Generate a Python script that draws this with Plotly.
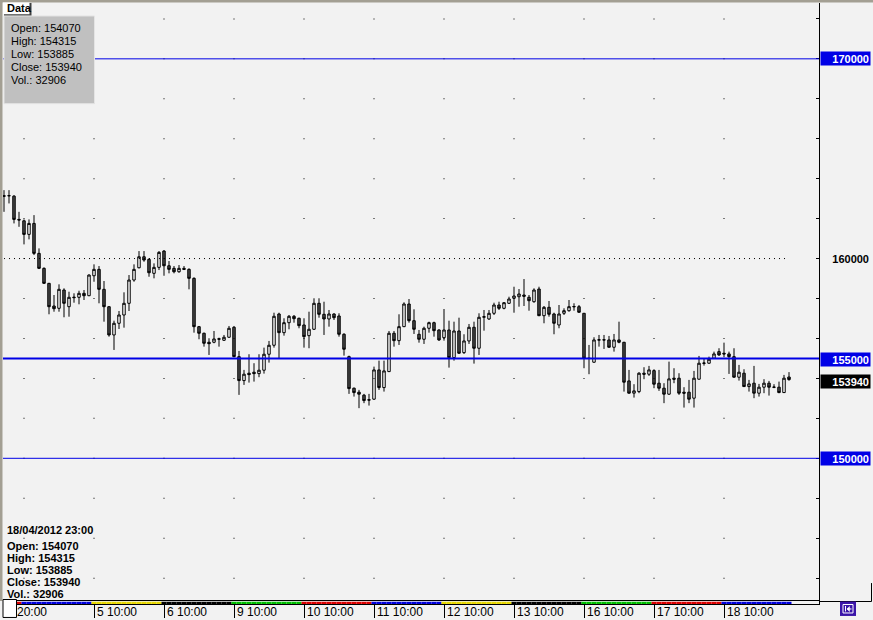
import plotly.graph_objects as go

# ---------------- data (hourly candles) ----------------
opens = [163150, 163140, 163125, 161960, 161890, 161210, 161760, 160260, 159510, 158760,
         157625, 157510, 158425, 157590, 158070, 158060, 158260, 158140, 159140, 159460,
         158460, 157590, 156175, 156760, 157175, 157760, 158925, 159540, 160090, 159960,
         159260, 159560, 160375, 159640, 159510, 159340, 159510, 159460, 159010, 156590,
         156260, 155810, 155810, 155985, 155910, 156060, 156560, 155090, 153890, 154260,
         154310, 154240, 154410, 155210, 155660, 157225, 156290, 156790, 157110, 157010,
         156675, 156140, 156460, 157760, 157210, 156975, 157225, 157125, 156210, 155090,
         153510, 153310, 153160, 152935, 152960, 154425, 153540, 154340, 156260, 155890,
         156590, 157725, 156890, 156210, 155960, 156510, 156790, 156425, 156040, 156425,
         155040, 156375, 155290, 155875, 156560, 155510, 157060, 156975, 157260, 157675,
         157510, 157760, 158010, 158090, 158175, 158060, 157840, 158475, 157140, 157560,
         157225, 156675, 157260, 157390, 157580, 157590, 157260, 155010, 154810, 155915,
         155935, 155925, 155560, 155925, 155810, 153875, 153260, 153340, 154260, 154210,
         154390, 153760, 153510, 153210, 154010, 154010, 153310, 153310, 153010, 153960,
         154750, 154760, 155010, 155340, 155260, 155225, 155090, 154060, 154260, 153590,
         153760, 153260, 153560, 153760, 153550, 153560, 153290, 154070]
highs = [163425, 163425, 163175, 162340, 161960, 161960, 162175, 160510, 159560, 158780,
         158175, 158710, 158510, 158340, 158260, 158390, 158425, 159210, 159710, 159625,
         158875, 157610, 156890, 157375, 158310, 159175, 159710, 160375, 160375, 160010,
         159760, 160375, 160425, 159875, 159625, 159675, 159625, 159510, 159060, 156625,
         156290, 156010, 156375, 156040, 156175, 156625, 156625, 155375, 154425, 155210,
         154760, 155210, 155540, 155875, 157290, 157290, 157010, 157175, 157175, 157040,
         157010, 157340, 158010, 158010, 157840, 157425, 157260, 157260, 156260, 155140,
         153540, 153425, 153225, 153225, 154590, 154890, 154890, 156375, 156375, 157210,
         157810, 157975, 157460, 156425, 156590, 156840, 156840, 156460, 157475, 156890,
         156840, 157040, 156210, 156725, 156840, 157260, 157425, 157425, 157790, 157840,
         157825, 158090, 158590, 158475, 158975, 158175, 158510, 158590, 157625, 157875,
         157290, 157675, 157510, 157925, 157760, 157675, 157270, 155675, 156060, 156175,
         156175, 156125, 156225, 156840, 155825, 154425, 153710, 154310, 154560, 154625,
         154460, 154425, 153760, 154840, 154510, 154260, 153560, 153925, 154375, 155125,
         154975, 155090, 155340, 155510, 155790, 155340, 155510, 154675, 154460, 153925,
         154625, 153725, 153960, 153875, 153710, 153840, 154175, 154315]
lows = [162340, 162760, 161760, 161590, 160710, 160960, 160175, 159475, 158740, 157210,
        157340, 157340, 157060, 157090, 157790, 157710, 157925, 158120, 158840, 157760,
        156840, 156090, 155425, 156475, 156540, 157375, 158840, 159510, 159840, 159090,
        159010, 159425, 159140, 159260, 159260, 159290, 159425, 158460, 156290, 155960,
        155590, 155175, 155760, 155590, 155875, 156040, 155060, 153175, 153675, 153790,
        153840, 154060, 154240, 154790, 155540, 155010, 156140, 156460, 156790, 156510,
        155540, 155510, 156425, 157040, 156175, 156590, 156925, 156090, 155140, 153225,
        153090, 152510, 152760, 152640, 152925, 153425, 153340, 154320, 155590, 155675,
        156570, 156790, 156225, 155790, 155725, 156290, 156090, 155875, 155890, 154540,
        154890, 155225, 155225, 155725, 154740, 155175, 156390, 156925, 157175, 157425,
        157460, 157725, 157290, 157590, 157625, 157390, 157790, 157120, 156760, 157090,
        156210, 156510, 157175, 157340, 157390, 157290, 154510, 154210, 154790, 155590,
        155475, 155540, 155340, 155760, 153340, 153240, 153040, 153260, 153960, 154125,
        153510, 153375, 152760, 153175, 153760, 153175, 152540, 152760, 152540, 153940,
        154640, 154740, 154990, 155125, 155060, 154225, 154040, 153890, 153575, 153340,
        153010, 153090, 153260, 153140, 153510, 153260, 153275, 153885]
closes = [163120, 163150, 161960, 161930, 161210, 161760, 160260, 159510, 158760, 157590,
          157490, 158460, 157760, 158060, 158045, 158260, 158140, 159175, 159460, 158460,
          157590, 156175, 156760, 157175, 157760, 158925, 159460, 160090, 159925, 159290,
          159560, 160310, 159640, 159460, 159340, 159510, 159460, 159010, 156590, 156260,
          155760, 155740, 155975, 155965, 156060, 156510, 155090, 153890, 154210, 154190,
          154240, 154410, 155210, 155660, 157110, 156290, 156790, 157110, 156990, 156640,
          156090, 156460, 157760, 157210, 156975, 157225, 157040, 156210, 155460, 153490,
          153290, 153210, 152890, 152915, 154425, 153540, 154375, 156260, 155890, 156590,
          157725, 156890, 156460, 155960, 156510, 156790, 156390, 155925, 156425, 155040,
          156375, 155260, 155875, 156560, 155510, 157060, 157090, 157260, 157675, 157510,
          157790, 157975, 158125, 158225, 158110, 157890, 158425, 157140, 157560, 157210,
          156760, 157225, 157390, 157590, 157600, 157310, 155010, 155000, 155925, 155935,
          155925, 155560, 155925, 155810, 153810, 153260, 153375, 154260, 154210, 154425,
          153710, 153510, 153210, 153975, 153960, 153260, 153260, 152960, 154010, 154760,
          154770, 154960, 155225, 155175, 155225, 155090, 154060, 154310, 153590, 153725,
          153260, 153560, 153760, 153560, 153565, 153290, 154010, 153940]
last_volume = 32906
last_time = "18/04/2012 23:00"

# trading days and the number of hourly bars in each one
day_names = ["3", "4", "5", "6", "9", "10", "11", "12", "13", "16", "17", "18"]
day_bar_counts = [4, 14, 14, 14, 14, 14, 14, 14, 14, 14, 14, 14]
day_colors = ["#DD0000", "#0000DD", "#E8D800", "#000000", "#00C000", "#DD0000",
              "#0000DD", "#E8D800", "#000000", "#00C000", "#DD0000", "#0000DD"]

# time axis labels (bar index, text)
tick_positions = [0, 18, 32, 46, 60, 74, 88, 102, 116, 130, 144]
tick_labels = ["20:00", "5 10:00", "6 10:00", "9 10:00", "10 10:00", "11 10:00",
               "12 10:00", "13 10:00", "16 10:00", "17 10:00", "18 10:00"]

# horizontal price levels
level_prices = [170000, 155000, 150000]
level_widths = [1, 2, 1]
pivot_price = 160000
grid_prices = list(range(144000, 172001, 2000))
price_range = [142855, 172795]

# ---------------- styling helpers (figure chrome only) ----------------
W, H = 873, 620
L_M, R_M, T_M, B_M = 3, 54, 3, 14
PW, PH = W - L_M - R_M, H - T_M - B_M


def pxx(x):
    return (x - L_M) / PW


def pxy(y):
    return (H - B_M - y) / PH


BG = "#F2F2F2"
BLUE = "#0000E6"
FONT = "Liberation Sans"

n = len(opens)
idx = list(range(n))

bar_colors = []
day_starts = []
pos = 0
for cnt, col in zip(day_bar_counts, day_colors):
    day_starts.append(pos)
    bar_colors += [col] * cnt
    pos += cnt
grid_cols = day_starts[1:]

fig = go.Figure()

# grid dots
gx, gy = [], []
for c in grid_cols:
    for p in grid_prices:
        gx.append(c)
        gy.append(p)
fig.add_trace(go.Scatter(x=gx, y=gy, mode="markers", hoverinfo="skip",
                         marker=dict(symbol="square", size=1, color="#000000",
                                     line=dict(width=0)),
                         xaxis="x", yaxis="y", showlegend=False))

fig.add_trace(go.Candlestick(
    x=idx, open=opens, high=highs, low=lows, close=closes,
    increasing=dict(line=dict(color="#000000", width=1), fillcolor="#FFFFFF"),
    decreasing=dict(line=dict(color="#000000", width=1), fillcolor="#4A4A4A"),
    whiskerwidth=0, hoverinfo="skip", showlegend=False, xaxis="x", yaxis="y"))

# day colour strip
fig.add_trace(go.Bar(x=idx, y=[1] * n, width=1, marker=dict(color=bar_colors, line=dict(width=0)),
                     xaxis="x", yaxis="y2", hoverinfo="skip", showlegend=False))

shapes = []
for p, w in zip(level_prices, level_widths):
    shapes.append(dict(type="line", xref="paper", yref="y", x0=0, x1=1, y0=p, y1=p,
                       line=dict(color=BLUE, width=w), layer="above"))
shapes.append(dict(type="line", xref="x", yref="y", x0=idx[0], x1=idx[-1],
                   y0=pivot_price, y1=pivot_price,
                   line=dict(color="#000000", width=1, dash="1px,4px"), layer="above"))
# frame chrome
shapes += [
    dict(type="rect", xref="paper", yref="paper", x0=pxx(0), x1=pxx(W), y0=pxy(2.5), y1=pxy(0),
         fillcolor="#A39F93", line=dict(width=0), layer="above"),
    dict(type="rect", xref="paper", yref="paper", x0=pxx(0), x1=pxx(2.5), y0=pxy(603), y1=pxy(0),
         fillcolor="#A39F93", line=dict(width=0), layer="above"),
    # info box
    dict(type="rect", xref="paper", yref="paper", x0=pxx(4), x1=pxx(94.5), y0=pxy(104), y1=pxy(16),
         fillcolor="#C0C0C0", line=dict(color="#E4E4E4", width=1), layer="above"),
    # Data tab shadow + tab
    dict(type="rect", xref="paper", yref="paper", x0=pxx(4), x1=pxx(31.5), y0=pxy(15.5), y1=pxy(3),
         fillcolor="#404040", line=dict(width=0), layer="above"),
    dict(type="rect", xref="paper", yref="paper", x0=pxx(3), x1=pxx(29.5), y0=pxy(14.3), y1=pxy(2.5),
         fillcolor="#FFFFFF", line=dict(width=0), layer="above"),
    # small white square bottom-left
    dict(type="rect", xref="paper", yref="paper", x0=pxx(3), x1=pxx(16.5), y0=pxy(619.5), y1=pxy(601.5),
         fillcolor="#FFFFFF", line=dict(color="#000000", width=1), layer="above"),
    # right panel frame
    dict(type="line", xref="paper", yref="paper", x0=pxx(819), x1=pxx(871.5), y0=pxy(603.5), y1=pxy(603.5),
         line=dict(color="#000000", width=1), layer="above"),
    dict(type="line", xref="paper", yref="paper", x0=pxx(871.5), x1=pxx(871.5), y0=pxy(603.5), y1=pxy(585),
         line=dict(color="#000000", width=1), layer="above"),
    # navigation icon
    dict(type="rect", xref="paper", yref="paper", x0=pxx(840), x1=pxx(856), y0=pxy(618), y1=pxy(603.5),
         fillcolor="#3A14A8", line=dict(width=0), layer="above"),
    dict(type="rect", xref="paper", yref="paper", x0=pxx(843), x1=pxx(853), y0=pxy(615), y1=pxy(606.5),
         fillcolor="rgba(0,0,0,0)", line=dict(color="#FFFFFF", width=1), layer="above"),
    dict(type="line", xref="paper", yref="paper", x0=pxx(845.5), x1=pxx(845.5), y0=pxy(613.5), y1=pxy(608),
         line=dict(color="#FFFFFF", width=1), layer="above"),
    dict(type="line", xref="paper", yref="paper", x0=pxx(847), x1=pxx(851.5), y0=pxy(611), y1=pxy(611),
         line=dict(color="#FFFFFF", width=1), layer="above"),
    dict(type="path", xref="paper", yref="paper",
         path="M %f %f L %f %f L %f %f Z" % (pxx(847), pxy(611), pxx(849.5), pxy(608.5), pxx(849.5), pxy(613.5)),
         fillcolor="#FFFFFF", line=dict(color="#FFFFFF", width=0.5), layer="above"),
]

annotations = []
# time labels
for tpos, ttext in zip(tick_positions, tick_labels):
    annotations.append(dict(x=tpos, xref="x", y=pxy(614), yref="paper", text=ttext,
                            xanchor="left", yanchor="middle", showarrow=False,
                            xshift=11 if tpos == tick_positions[0] else 1,
                            font=dict(family=FONT, size=12, color="#000000")))
# price boxes on the right axis
box_labels = [(level_prices[0], BLUE, 0), (pivot_price, None, 0), (level_prices[1], BLUE, -1),
              (closes[-1], "#000000", -2), (level_prices[2], BLUE, 0)]
for p, col, ys in box_labels:
    a = dict(x=pxx(820), xref="paper", y=p, yref="y", text="<b>%d</b>" % p,
             xanchor="left", yanchor="middle", showarrow=False, align="right",
             width=47, height=11, borderpad=1, yshift=ys,
             font=dict(family=FONT, size=11, color="#FFFFFF" if col else "#000000"))
    if col:
        a["bgcolor"] = col
    annotations.append(a)

# Data tab
annotations.append(dict(x=pxx(4.5), xref="paper", y=pxy(8.5), yref="paper", text="<b>Data</b>",
                        xanchor="left", yanchor="middle", showarrow=False,
                        font=dict(family=FONT, size=11, color="#000000")))
# info box contents (last bar)
info_lines = ["Open: %d" % opens[-1], "High: %d" % highs[-1], "Low: %d" % lows[-1],
              "Close: %d" % closes[-1], "Vol.: %d" % last_volume]
for k, t in enumerate(info_lines):
    annotations.append(dict(x=pxx(9), xref="paper", y=pxy(28.5 + 13 * k), yref="paper", text=t,
                            xanchor="left", yanchor="middle", showarrow=False,
                            font=dict(family=FONT, size=11, color="#000000")))
# bottom-left bar details
annotations.append(dict(x=pxx(5), xref="paper", y=pxy(532), yref="paper", text="<b>%s</b>" % last_time,
                        xanchor="left", yanchor="middle", showarrow=False,
                        font=dict(family=FONT, size=11, color="#000000")))
for k, t in enumerate(info_lines):
    annotations.append(dict(x=pxx(5), xref="paper", y=pxy(548 + 12 * k), yref="paper", text="<b>%s</b>" % t,
                            xanchor="left", yanchor="middle", showarrow=False,
                            font=dict(family=FONT, size=11, color="#000000")))

fig.update_layout(
    width=W, height=H, autosize=False,
    margin=dict(l=L_M, r=R_M, t=T_M, b=B_M, pad=0),
    paper_bgcolor=BG, plot_bgcolor=BG,
    showlegend=False, hovermode=False,
    shapes=shapes, annotations=annotations,
    xaxis=dict(domain=[0, 1], range=[-0.2, 163.0], anchor="y2", showgrid=False, zeroline=False,
               showline=True, mirror=True, linecolor="#000000", linewidth=1,
               ticks="outside", ticklen=13, tickwidth=1, tickcolor="#000000",
               tickmode="array", tickvals=tick_positions, showticklabels=False,
               rangeslider=dict(visible=False), fixedrange=True),
    yaxis=dict(domain=[3 / PH, 1], range=price_range, anchor="x", side="right",
               showgrid=False, zeroline=False, showline=True, linecolor="#000000", linewidth=1,
               ticks="inside", ticklen=3, tickwidth=1, tickcolor="#000000",
               tick0=0, dtick=2000, showticklabels=False, fixedrange=True),
    yaxis3=dict(overlaying="y", side="left", anchor="x", range=price_range,
                showgrid=False, zeroline=False, showline=False,
                ticks="inside", ticklen=3, tickwidth=1, tickcolor="#000000",
                tick0=0, dtick=2000, showticklabels=False, fixedrange=True),
    yaxis2=dict(domain=[0, 2.6 / PH], range=[0, 1], anchor="x", side="right",
                showgrid=False, zeroline=False, showline=True, linecolor="#000000", linewidth=1,
                ticks="", showticklabels=False, fixedrange=True),
    boxgap=0.3,
)

fig.write_html("out.html", config={"displayModeBar": False},
               post_script="document.body.style.margin='0px';document.body.style.padding='0px';"
                           "document.body.style.overflow='hidden';")
